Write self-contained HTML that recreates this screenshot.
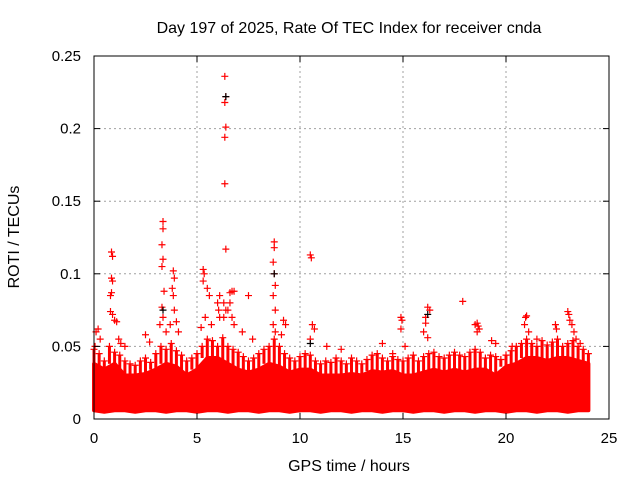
<!DOCTYPE html>
<html><head><meta charset="utf-8"><style>
html,body{margin:0;padding:0;background:#fff}
svg{display:block;font-family:"Liberation Sans",sans-serif}
</style></head><body>
<svg id="chart" width="640" height="480" viewBox="0 0 640 480" xmlns="http://www.w3.org/2000/svg">
<rect width="640" height="480" fill="#fff"/>
<text x="349" y="33" text-anchor="middle" font-size="16">Day 197 of 2025, Rate Of TEC Index for receiver cnda</text>
<text x="349" y="471" text-anchor="middle" font-size="16">GPS time / hours</text>
<text x="19" y="237" text-anchor="middle" font-size="16" transform="rotate(-90 19 237)">ROTI / TECUs</text>
<g id="grid"></g>
<g id="band"></g>
<g id="pts"></g>
<g id="axes"></g>
</svg>
<script>
const xTicks=[0,5,10,15,20,25];
const yTicks=[0,0.05,0.1,0.15,0.2,0.25];
const yTickLabels=["0","0.05","0.1","0.15","0.2","0.25"];
const bandHours=[0,0.5,1,1.5,2,2.5,3,3.5,4,4.5,5,5.5,6,6.5,7,7.5,8,8.5,9,9.5,10,10.5,11,11.5,12,12.5,13,13.5,14,14.5,15,15.5,16,16.5,17,17.5,18,18.5,19,19.5,20,20.5,21,21.5,22,22.5,23,23.5,24];
const bandUpper=[0.038,0.034,0.038,0.03,0.03,0.031,0.034,0.038,0.036,0.03,0.034,0.042,0.042,0.038,0.034,0.032,0.034,0.038,0.036,0.032,0.034,0.034,0.03,0.03,0.03,0.031,0.03,0.033,0.032,0.033,0.03,0.03,0.032,0.034,0.032,0.034,0.032,0.034,0.034,0.03,0.036,0.038,0.042,0.042,0.04,0.042,0.042,0.04,0.038];
const bandLower=[0.006,0.005,0.006,0.006,0.005,0.006,0.006,0.005,0.006,0.006,0.005,0.006,0.006,0.005,0.006,0.006,0.005,0.006,0.006,0.005,0.006,0.006,0.005,0.006,0.006,0.005,0.006,0.006,0.005,0.006,0.006,0.005,0.006,0.006,0.005,0.006,0.006,0.005,0.006,0.006,0.005,0.006,0.006,0.005,0.006,0.006,0.005,0.006,0.006];
const midHours=[0,0.25,0.5,0.75,1,1.25,1.5,1.75,2,2.25,2.5,2.75,3,3.25,3.5,3.75,4,4.25,4.5,4.75,5,5.25,5.5,5.75,6,6.25,6.5,6.75,7,7.25,7.5,7.75,8,8.25,8.5,8.75,9,9.25,9.5,9.75,10,10.25,10.5,10.75,11,11.25,11.5,11.75,12,12.25,12.5,12.75,13,13.25,13.5,13.75,14,14.25,14.5,14.75,15,15.25,15.5,15.75,16,16.25,16.5,16.75,17,17.25,17.5,17.75,18,18.25,18.5,18.75,19,19.25,19.5,19.75,20,20.25,20.5,20.75,21,21.25,21.5,21.75,22,22.25,22.5,22.75,23,23.25,23.5,23.75,24];
const midValues=[0.048,0.045,0.04,0.05,0.046,0.044,0.04,0.038,0.037,0.04,0.042,0.039,0.045,0.05,0.048,0.052,0.047,0.044,0.04,0.042,0.045,0.05,0.055,0.054,0.05,0.056,0.05,0.048,0.046,0.043,0.04,0.042,0.045,0.048,0.05,0.055,0.05,0.045,0.042,0.04,0.043,0.045,0.044,0.04,0.038,0.04,0.039,0.042,0.04,0.038,0.042,0.04,0.038,0.041,0.044,0.045,0.042,0.04,0.043,0.041,0.04,0.042,0.044,0.04,0.043,0.045,0.046,0.043,0.042,0.044,0.046,0.044,0.043,0.046,0.048,0.046,0.042,0.044,0.043,0.041,0.044,0.047,0.05,0.052,0.055,0.052,0.05,0.054,0.051,0.053,0.055,0.05,0.052,0.054,0.05,0.048,0.045];
const redHours=[0.1,0.2,0.3,0.05,0.85,0.9,0.85,0.9,0.8,0.85,0.8,0.9,1.0,1.1,1.2,1.3,1.5,3.35,3.35,3.3,3.35,3.3,3.4,3.3,3.35,3.2,3.5,3.85,3.9,3.8,3.85,3.9,4.0,3.7,4.1,2.5,2.7,5.3,5.35,5.3,5.5,5.6,5.4,5.2,5.7,6.0,6.1,6.05,6.1,6.35,6.4,6.35,6.4,6.35,6.35,6.4,6.3,6.4,6.3,6.6,6.7,6.8,6.6,6.5,6.7,6.8,7.5,7.2,7.7,8.75,8.75,8.7,8.75,8.8,8.7,8.8,8.7,8.8,9.2,9.3,9.1,10.5,10.55,10.6,10.7,10.5,11.3,12.0,14.0,14.5,14.9,14.95,14.9,15.1,16.1,16.1,16.0,16.2,16.2,16.3,17.9,18.6,18.65,18.5,18.7,18.6,19.3,19.5,20.3,20.95,21.0,20.9,21.1,21.5,22.4,22.45,23.0,23.05,23.1,23.2,23.3,23.4,23.6];
const redValues=[0.06,0.062,0.055,0.05,0.115,0.112,0.097,0.095,0.085,0.087,0.074,0.072,0.068,0.067,0.055,0.052,0.05,0.136,0.131,0.12,0.11,0.105,0.088,0.077,0.07,0.065,0.06,0.102,0.097,0.09,0.085,0.075,0.067,0.065,0.06,0.058,0.053,0.103,0.1,0.095,0.09,0.085,0.07,0.063,0.065,0.08,0.085,0.075,0.07,0.236,0.222,0.218,0.201,0.194,0.162,0.117,0.08,0.075,0.07,0.087,0.088,0.088,0.08,0.075,0.07,0.065,0.085,0.06,0.055,0.122,0.118,0.108,0.1,0.092,0.085,0.075,0.065,0.06,0.068,0.065,0.058,0.113,0.111,0.065,0.062,0.055,0.05,0.048,0.052,0.045,0.07,0.068,0.062,0.05,0.07,0.066,0.06,0.056,0.077,0.075,0.081,0.066,0.064,0.065,0.062,0.06,0.054,0.052,0.05,0.07,0.071,0.065,0.06,0.055,0.065,0.062,0.074,0.072,0.068,0.065,0.06,0.055,0.052];
const blackHours=[6.4,8.75,3.35,10.5,16.2];
const blackValues=[0.222,0.1,0.075,0.052,0.072];

const L=94,R=609,T=56,B=419;
function xs(h){return L+(h/25)*(R-L);}
function ys(v){return B-(v/0.25)*(B-T);}
const NS="http://www.w3.org/2000/svg";
function mk(tag,attrs,parent){const e=document.createElementNS(NS,tag);for(const k in attrs)e.setAttribute(k,attrs[k]);parent.appendChild(e);return e;}
const grid=document.getElementById('grid'),axes=document.getElementById('axes'),band=document.getElementById('band'),pts=document.getElementById('pts');
xTicks.forEach((t,i)=>{
  const x=xs(t);
  if(t>0&&t<25){const g=mk('line',{x1:x,y1:T,x2:x,y2:B,stroke:'#a0a0a0','stroke-dasharray':'2,3'},grid);
  
  }
  const a=mk('line',{x1:x,y1:B,x2:x,y2:B-6,stroke:'#000'},axes);
  
  
  const b=mk('line',{x1:x,y1:T,x2:x,y2:T+6,stroke:'#000'},axes);
  
  
  const tx=mk('text',{x:x,y:443,'text-anchor':'middle','font-size':15},axes);
  tx.textContent=String(t);
  
  
});
yTicks.forEach((t,i)=>{
  const y=ys(t);
  if(t>0&&t<0.25){const g=mk('line',{x1:L,y1:y,x2:R,y2:y,stroke:'#a0a0a0','stroke-dasharray':'2,3'},grid);
  
  }
  const a=mk('line',{x1:L,y1:y,x2:L+6,y2:y,stroke:'#000'},axes);
  
  
  const b=mk('line',{x1:R,y1:y,x2:R-6,y2:y,stroke:'#000'},axes);
  
  
  const tx=mk('text',{x:81,y:y+5,'text-anchor':'end','font-size':15},axes);
  tx.textContent=yTickLabels[i];
  
  
});
const fr=mk('rect',{x:L,y:T,width:R-L,height:B-T,fill:'none',stroke:'#000'},axes);


let d='';
bandHours.forEach((h,i)=>{d+=(i?'L':'M')+xs(h)+','+ys(bandUpper[i]);});
for(let i=bandHours.length-1;i>=0;i--){d+='L'+xs(bandHours[i])+','+ys(bandLower[i]);}
d+='Z';
const bp=mk('path',{d:d,fill:'#ff0000',stroke:'#ff0000','stroke-width':4,'stroke-linejoin':'round'},band);


midHours.forEach((h,i)=>{
  const x=xs(h);
  const j=Math.min(bandHours.length-1,Math.round(h*2));
  const s=mk('line',{x1:x,y1:ys(bandUpper[j]),x2:x,y2:ys(midValues[i]),stroke:'#ff0000','stroke-width':3},band);
  
  
});
function plus(h,v,color,name){
  const x=xs(h),y=ys(v);
  const p=mk('path',{d:`M${x-3.5},${y}H${x+3.5}M${x},${y-3.5}V${y+3.5}`,stroke:color,'stroke-width':1.2,fill:'none'},pts);
  
  
}
midHours.forEach((h,i)=>plus(h,midValues[i],'#ff0000','roti-point'));
redHours.forEach((h,i)=>plus(h,redValues[i],'#ff0000','roti-point'));
blackHours.forEach((h,i)=>plus(h,blackValues[i],'#000000','roti-point-alt'));
</script>
</body></html>
